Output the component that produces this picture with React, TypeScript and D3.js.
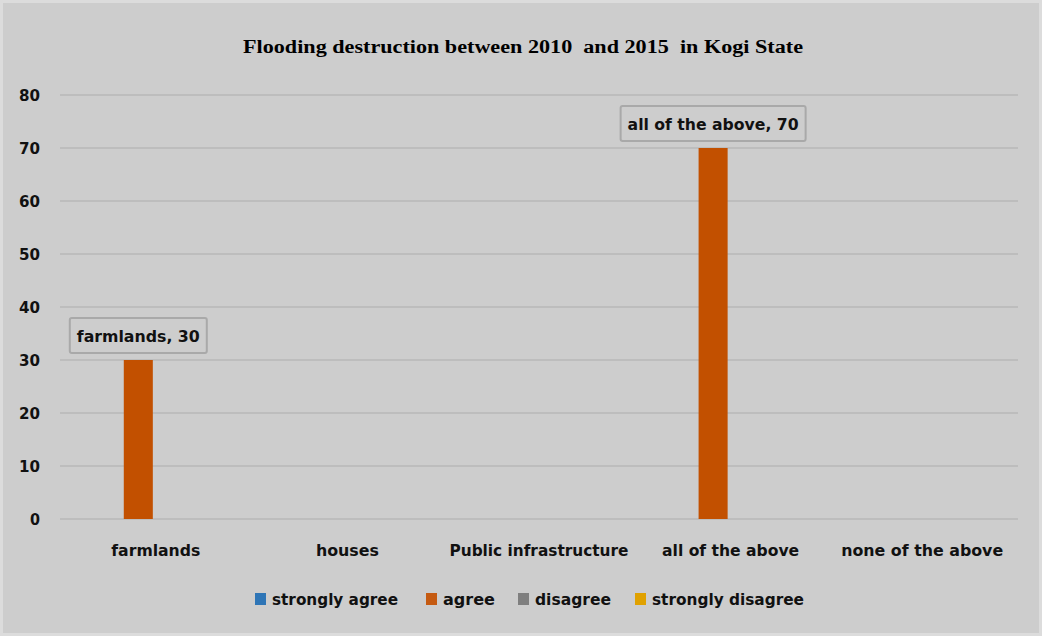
import React from 'react';
import * as d3 from 'd3';

// Survey responses on flood destruction, per category and response series
const categories = ['farmlands', 'houses', 'Public infrastructure', 'all of the above', 'none of the above'];
const seriesNames = ['strongly agree', 'agree', 'disagree', 'strongly disagree'];
const stronglyAgree = [0, 0, 0, 0, 0];
const agree = [30, 0, 0, 70, 0];
const disagree = [0, 0, 0, 0, 0];
const stronglyDisagree = [0, 0, 0, 0, 0];
const yTicks = [0, 10, 20, 30, 40, 50, 60, 70, 80];
const chartTitle = 'Flooding destruction between 2010  and 2015  in Kogi State';

const seriesValues = [stronglyAgree, agree, disagree, stronglyDisagree];
const seriesColors = ['#2e75b6', '#c55a11', '#7f7f7f', '#e0a100'];
const barColors = ['#2e75b6', '#c25000', '#7f7f7f', '#e0a100'];

const W = 1042;
const H = 636;
const M = { left: 60, right: 1018, top: 95, bottom: 519 };

const FONT = "'Liberation Sans Narrow', 'DejaVu Sans Condensed', 'Liberation Sans', sans-serif";

// rendered widths for the condensed label text
const textWidths: Record<string, number> = {
  farmlands: 89,
  houses: 63,
  'Public infrastructure': 179,
  'all of the above': 137,
  'none of the above': 162,
  'strongly agree': 126,
  agree: 52,
  disagree: 76,
  'strongly disagree': 152,
  'farmlands, 30': 123,
  'all of the above, 70': 171,
};

export default function App() {
  const x0 = d3.scaleBand<string>().domain(categories).range([M.left, M.right]).padding(0);
  const bw = x0.bandwidth();
  const groupW = 134;
  const x1 = d3
    .scaleBand<string>()
    .domain(seriesNames)
    .range([(bw - groupW) / 2, (bw + groupW) / 2])
    .paddingInner(0.17)
    .paddingOuter(0);
  const y = d3.scaleLinear().domain([0, 80]).range([M.bottom, M.top]);

  // legend layout: swatch then label, laid out left to right
  const legendSwatchX = [255, 426, 518, 635];

  const labels: { key: string; cx: number; top: number; text: string }[] = [];
  seriesValues.forEach((vals, si) => {
    vals.forEach((v, ci) => {
      if (v > 0) {
        const cx = (x0(categories[ci]) as number) + (x1(seriesNames[si]) as number) + x1.bandwidth() / 2;
        labels.push({ key: `${si}-${ci}`, cx, top: y(v), text: `${categories[ci]}, ${v}` });
      }
    });
  });

  return (
    <svg width={W} height={H} style={{ position: 'absolute', left: 0, top: 0 }}>
      <rect x={1.5} y={1.5} width={W - 3} height={H - 3} fill="#cdcdcd" stroke="#dcdcdc" strokeWidth={3} />

      <text
        x={W / 2 + 2}
        y={53}
        textAnchor="middle"
        fontFamily="'Liberation Serif', 'DejaVu Serif', serif"
        fontWeight="bold"
        fontSize={18}
        textLength={560}
        lengthAdjust="spacingAndGlyphs"
        fill="#000"
        style={{ whiteSpace: 'pre' }}
      >
        {chartTitle}
      </text>

      {yTicks.map((t) => (
        <g key={t}>
          <line x1={M.left} x2={M.right} y1={y(t)} y2={y(t)} stroke="#bdbdbd" strokeWidth={2} />
          <text
            x={40}
            y={y(t) + 6}
            textAnchor="end"
            fontFamily={FONT}
            fontWeight="bold"
            fontSize={16}
            textLength={t === 0 ? 10 : 21}
            lengthAdjust="spacingAndGlyphs"
            fill="#111"
          >
            {t}
          </text>
        </g>
      ))}

      {seriesValues.map((vals, si) =>
        vals.map((v, ci) =>
          v > 0 ? (
            <rect
              key={`${si}-${ci}`}
              x={(x0(categories[ci]) as number) + (x1(seriesNames[si]) as number)}
              y={y(v)}
              width={x1.bandwidth()}
              height={y(0) - y(v)}
              fill={barColors[si]}
            />
          ) : null
        )
      )}

      {categories.map((c) => (
        <text
          key={c}
          x={(x0(c) as number) + bw / 2}
          y={556}
          textAnchor="middle"
          fontFamily={FONT}
          fontWeight="bold"
          fontSize={16}
          textLength={textWidths[c]}
          lengthAdjust="spacingAndGlyphs"
          fill="#111"
        >
          {c}
        </text>
      ))}

      {labels.map((l) => {
        const tw = textWidths[l.text] ?? l.text.length * 8;
        const boxW = tw + 14;
        const boxH = 35;
        const bx = l.cx - boxW / 2;
        const by = l.top - 7 - boxH;
        return (
          <g key={l.key}>
            <rect x={bx} y={by} width={boxW} height={boxH} rx={2} fill="#cdcdcd" stroke="#a9a9a9" strokeWidth={2} />
            <text
              x={l.cx}
              y={by + boxH / 2 + 6}
              textAnchor="middle"
              fontFamily={FONT}
              fontWeight="bold"
              fontSize={16}
              textLength={tw}
              lengthAdjust="spacingAndGlyphs"
              fill="#111"
            >
              {l.text}
            </text>
          </g>
        );
      })}

      {seriesNames.map((s, i) => (
        <g key={s}>
          <rect x={legendSwatchX[i]} y={593} width={11} height={12} fill={seriesColors[i]} />
          <text
            x={legendSwatchX[i] + 17}
            y={605}
            fontFamily={FONT}
            fontWeight="bold"
            fontSize={16}
            textLength={textWidths[s]}
            lengthAdjust="spacingAndGlyphs"
            fill="#111"
          >
            {s}
          </text>
        </g>
      ))}
    </svg>
  );
}
